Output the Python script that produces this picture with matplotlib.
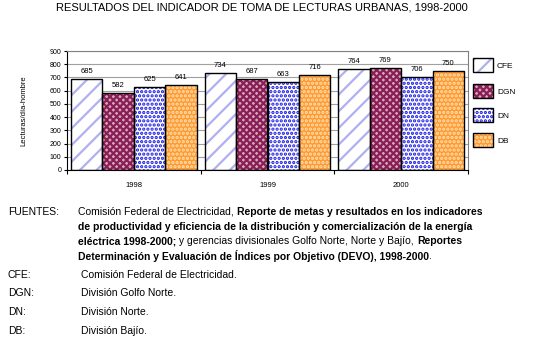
"""Lecturas urbanas por día-hombre, CFE y divisiones, 1998-2000."""

import matplotlib
matplotlib.use("Agg")
import matplotlib.pyplot as plt
import numpy as np

plt.rcParams["font.family"] = ["Liberation Sans", "DejaVu Sans"]
plt.rcParams["hatch.linewidth"] = 1.6

years = ["1998", "1999", "2000"]
series = ["CFE", "DGN", "DN", "DB"]
values = {
    "CFE": [685, 734, 764],
    "DGN": [582, 687, 769],
    "DN": [625, 663, 706],
    "DB": [641, 716, 750],
}
y_ticks = [0, 100, 200, 300, 400, 500, 600, 700, 800, 900]

# face colour, hatch, hatch colour
styles = {
    "CFE": ("white", "//", "#b0b0f0"),
    "DGN": ("#d7a9c0", "xxxxx", "#8a1f55"),
    "DN": ("white", "....", "#1a1ae6"),
    "DB": ("#ff9a33", "....", "#ffe0b0"),
}

W, H = 550, 359
fig = plt.figure(figsize=(W / 100, H / 100), dpi=100)
ax = fig.add_axes([67 / W, 1 - 170 / H, (468 - 67) / W, (170 - 51) / H])

x = np.arange(len(years))
bw = 0.235
for i, name in enumerate(series):
    fc, hatch, hc = styles[name]
    pos = x + (i - 1.5) * bw
    ax.bar(pos, values[name], bw, color=fc, hatch=hatch, edgecolor=hc,
           linewidth=0, zorder=2)
    ax.bar(pos, values[name], bw, fill=False, edgecolor="black",
           linewidth=1.0, zorder=3)
    for xp, v in zip(pos, values[name]):
        ax.text(xp, v + 30, str(v), ha="center", va="bottom", fontsize=5.5)

ax.set_xlim(-0.5, 2.5)
ax.set_ylim(0, 900)
ax.set_yticks(y_ticks)
ax.set_yticklabels([str(t) for t in y_ticks], fontsize=5)
ax.yaxis.grid(True, color="#a0a0a0", linewidth=0.8, zorder=0)
ax.set_axisbelow(True)
ax.set_xticks([-0.5, 0.5, 1.5, 2.5])
ax.set_xticklabels([])
ax.tick_params(axis="x", length=3, direction="out", width=0.8)
ax.tick_params(axis="y", length=2, width=0.8, pad=2)
for xp, yr in zip(x, years):
    ax.text(xp, -0.10, yr, transform=ax.get_xaxis_transform(), ha="center",
            va="top", fontsize=5.5)
ax.spines["right"].set_color("#808080")
ax.spines["top"].set_color("#808080")
ax.spines["left"].set_linewidth(0.8)
ax.spines["bottom"].set_linewidth(0.8)
ax.set_ylabel("Lecturas/día-hombre", fontsize=5.5, labelpad=16)

# legend drawn as boxes at the right of the plot
leg_y = [65, 91, 115, 140]
for name, ly in zip(series, leg_y):
    fc, hatch, hc = styles[name]
    box = plt.Rectangle((473 / W, 1 - (ly + 7) / H), 20 / W, 14 / H,
                        transform=fig.transFigure, facecolor=fc, hatch=hatch,
                        edgecolor=hc, linewidth=0)
    fig.add_artist(box)
    fig.add_artist(plt.Rectangle((473 / W, 1 - (ly + 7) / H), 20 / W, 14 / H,
                                 transform=fig.transFigure, fill=False,
                                 edgecolor="black", linewidth=1.0))
    fig.text(497 / W, 1 - (ly + 1) / H, name, fontsize=6, va="center")

fig.text(262 / W, 1 - 8 / H,
         "RESULTADOS DEL INDICADOR DE TOMA DE LECTURAS URBANAS, 1998-2000",
         ha="center", va="center", fontsize=8)

# sources paragraph, mixing regular and bold pieces
src_lines = [
    [("Comisión Federal de Electricidad, ", "normal"),
     ("Reporte de metas y resultados en los indicadores", "bold")],
    [("de productividad y eficiencia de la distribución y comercialización de la energía", "bold")],
    [("eléctrica 1998-2000;", "bold"),
     (" y gerencias divisionales Golfo Norte, Norte y Bajío, ", "normal"),
     ("Reportes", "bold")],
    [("Determinación y Evaluación de Índices por Objetivo (DEVO), 1998-2000", "bold"),
     (".", "normal")],
]
fs = 7.5
fig.text(8 / W, 1 - 212 / H, "FUENTES:", fontsize=fs, va="center")
for k, parts in enumerate(src_lines):
    yy = 1 - (212 + k * 14.7) / H
    last = None
    for txt, wt in parts:
        if last is None:
            last = fig.text(78 / W, yy, txt, fontsize=fs, fontweight=wt,
                            va="center")
        else:
            last = ax.annotate(txt, xy=(1, 0.5), xycoords=last, fontsize=fs,
                               fontweight=wt, va="center", ha="left",
                               annotation_clip=False)

abbrev = [
    ("CFE:", "Comisión Federal de Electricidad."),
    ("DGN:", "División Golfo Norte."),
    ("DN:", "División Norte."),
    ("DB:", "División Bajío."),
]
for k, (a, d) in enumerate(abbrev):
    yy = 1 - (275 + k * 18.5) / H
    fig.text(8 / W, yy, a, fontsize=fs, va="center")
    fig.text(81 / W, yy, d, fontsize=fs, va="center")

fig.savefig("out.png", dpi=100)
